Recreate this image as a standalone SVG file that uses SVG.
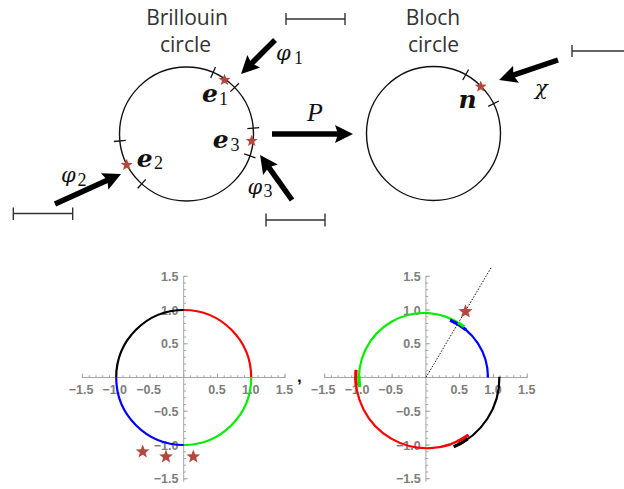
<svg xmlns="http://www.w3.org/2000/svg" xmlns:xlink="http://www.w3.org/1999/xlink" width="624" height="489" viewBox="0 0 624 489">
<style>
.title{font-family:"Open Sans","Liberation Sans",sans-serif;font-size:21px;fill:#333;text-anchor:middle}
.m{font-family:"Liberation Serif","DejaVu Serif",serif;font-style:italic;font-size:26px;fill:#111}
.g{font-family:"DejaVu Serif",serif;font-style:italic;font-size:21px;fill:#111}
.b{font-family:"DejaVu Serif",serif;font-style:italic;font-weight:bold;font-size:25px;fill:#111}
.sub{font-family:"Liberation Serif","DejaVu Serif",serif;font-size:18px;fill:#111}
.circ{fill:none;stroke:#111;stroke-width:1.4}
.tick{stroke:#111;stroke-width:1.3}
.bar{stroke:#333;stroke-width:1.4;fill:none}
.arrow{stroke:#000;stroke-width:5.5;fill:none;marker-end:url(#ah)}
.star{fill:#b4483c}
.ax{stroke:#a6a6a6;stroke-width:1;fill:none}
.tk{stroke:#a6a6a6;fill:none}
.lbl{font-family:"Liberation Sans",Arial,sans-serif;font-weight:bold;font-size:12.5px;fill:#7d7d7d}
.lx{text-anchor:middle}
.ly{text-anchor:end}
.arc{fill:none;stroke-width:2.2}
.thk{fill:none;stroke-width:3.2}
</style>
<defs>
<marker id="ah" markerUnits="userSpaceOnUse" markerWidth="18" markerHeight="20" viewBox="0 0 18 20" refX="6" refY="10" orient="auto">
<path d="M0,1 L18,10 L0,19 L3,10 Z" fill="#000"/>
</marker>
<path id="star" d="M0,-1 L0.2469,-0.3398 L0.9511,-0.309 L0.3995,0.1298 L0.5878,0.809 L0,0.42 L-0.5878,0.809 L-0.3995,0.1298 L-0.9511,-0.309 L-0.2469,-0.3398 Z"/>
</defs>

<g id="brillouin">
<text class="title" x="187" y="25">Brillouin</text>
<text class="title" x="185.5" y="52">circle</text>
<circle class="circ" cx="186.5" cy="134" r="67"/>
<line class="tick" x1="210.7" y1="78" x2="215.5" y2="67"/>
<line class="tick" x1="230.4" y1="91.6" x2="239" y2="83.3"/>
<line class="tick" x1="247.3" y1="128.7" x2="259.2" y2="127.6"/>
<line class="tick" x1="244.2" y1="153.9" x2="255.5" y2="157.8"/>
<line class="tick" x1="125.8" y1="140.3" x2="113.9" y2="141.5"/>
<line class="tick" x1="145.8" y1="179.4" x2="137.7" y2="188.3"/>
<use xlink:href="#star" class="star" transform="translate(224.5,80) scale(6.3)"/>
<use xlink:href="#star" class="star" transform="translate(251.7,141) scale(6.3)"/>
<use xlink:href="#star" class="star" transform="translate(126.7,165) scale(6.3)"/>
<text class="b" x="202" y="101.7">e</text><text class="sub" x="219" y="104.5">1</text>
<text class="b" x="212.8" y="147.7">e</text><text class="sub" x="230.5" y="150.7">3</text>
<text class="b" x="136.8" y="166.7">e</text><text class="sub" x="154" y="168.5">2</text>
</g>

<g id="bloch">
<text class="title" x="433" y="25">Bloch</text>
<text class="title" x="433.5" y="52">circle</text>
<circle class="circ" cx="433.5" cy="133.5" r="67"/>
<line class="tick" x1="462.8" y1="80" x2="468.6" y2="69.5"/>
<line class="tick" x1="488.2" y1="106.4" x2="498.9" y2="101"/>
<use xlink:href="#star" class="star" transform="translate(480.7,86.7) scale(6.3)"/>
<text class="b" x="458.5" y="108.3" font-size="27">n</text>
</g>

<g id="scalebars">
<path class="bar" d="M286,19 H345 M286,13 V25 M345,13 V25"/>
<path class="bar" d="M13.3,213.5 H72.7 M13.3,207.5 V220 M72.7,207.5 V220"/>
<path class="bar" d="M266,220 H325 M266,213.5 V226.5 M325,213.5 V226.5"/>
<path class="bar" d="M572,51 H624 M572,45 V57"/>
</g>

<g id="connectors">
<line class="arrow" x1="275" y1="40" x2="249.5" y2="65.5"/>
<line class="arrow" x1="55" y1="204" x2="110.1" y2="179"/>
<line class="arrow" x1="292" y1="200" x2="267" y2="164.8"/>
<line class="arrow" x1="272" y1="134" x2="341" y2="134"/>
<line class="arrow" x1="558" y1="60" x2="510.4" y2="76.1"/>
</g>

<g id="arrow-labels">
<text class="g" x="276" y="59.5">φ</text><text class="sub" x="294" y="63.5">1</text>
<text class="g" x="61" y="181.5">φ</text><text class="sub" x="77.5" y="186">2</text>
<text class="g" x="247.5" y="193.5">φ</text><text class="sub" x="263.5" y="196.7">3</text>
<text class="m" x="307" y="120.7" font-size="27">P</text>
<text class="g" x="535" y="95" font-size="23">χ</text>
</g>

<g id="plot-left">
<line class="ax" x1="81.7" y1="377.5" x2="285.5" y2="377.5"/>
<line class="ax" x1="183.7" y1="276" x2="183.7" y2="481.7"/>
<line class="tk" x1="81.95" y1="376.35" x2="285.5" y2="376.35" stroke-width="2.3" stroke-dasharray="1 5.75"/>
<line class="tk" x1="81.95" y1="375.5" x2="285.5" y2="375.5" stroke-width="4" stroke-dasharray="1 32.75"/>
<line class="tk" x1="184.85" y1="275.75" x2="184.85" y2="479.3" stroke-width="2.3" stroke-dasharray="1 5.75"/>
<line class="tk" x1="185.7" y1="275.75" x2="185.7" y2="479.3" stroke-width="4" stroke-dasharray="1 32.75"/>
<text class="lbl lx" x="81" y="393.5">−1.5</text>
<text class="lbl lx" x="114.7" y="393.5">−1.0</text>
<text class="lbl lx" x="148.5" y="393.5">−0.5</text>
<text class="lbl lx" x="217" y="393.5">0.5</text>
<text class="lbl lx" x="250.7" y="393.5">1.0</text>
<text class="lbl lx" x="284.5" y="393.5">1.5</text>
<text class="lbl ly" x="178.5" y="280.7">1.5</text>
<text class="lbl ly" x="178.5" y="314.5">1.0</text>
<text class="lbl ly" x="178.5" y="348.2">0.5</text>
<text class="lbl ly" x="178.5" y="415.7">−0.5</text>
<text class="lbl ly" x="178.5" y="449.5">−1.0</text>
<text class="lbl ly" x="178.5" y="483.2">−1.5</text>
<path class="arc" stroke="#ff0000" d="M183.7,310 A67.5,67.5 0 0 1 251.2,377.5"/>
<path class="arc" stroke="#00ee00" d="M251.2,377.5 A67.5,67.5 0 0 1 183.7,445"/>
<path class="arc" stroke="#0000ff" d="M183.7,445 A67.5,67.5 0 0 1 116.2,377.5"/>
<path class="arc" stroke="#000000" d="M116.2,377.5 A67.5,67.5 0 0 1 183.7,310"/>
<use xlink:href="#star" class="star" transform="translate(142.7,451.7) scale(7.2)"/>
<use xlink:href="#star" class="star" transform="translate(166,456.7) scale(7.2)"/>
<use xlink:href="#star" class="star" transform="translate(193.3,456.7) scale(7.2)"/>
</g>

<text x="297" y="382" font-family="Liberation Sans, Arial, sans-serif" font-weight="bold" font-size="17" fill="#111">,</text>

<g id="plot-right">
<line class="ax" x1="324" y1="377.5" x2="527.7" y2="377.5"/>
<line class="ax" x1="425.9" y1="276" x2="425.9" y2="481.7"/>
<line class="tk" x1="324.15" y1="376.35" x2="527.7" y2="376.35" stroke-width="2.3" stroke-dasharray="1 5.75"/>
<line class="tk" x1="324.15" y1="375.5" x2="527.7" y2="375.5" stroke-width="4" stroke-dasharray="1 32.75"/>
<line class="tk" x1="427.05" y1="275.75" x2="427.05" y2="479.3" stroke-width="2.3" stroke-dasharray="1 5.75"/>
<line class="tk" x1="427.9" y1="275.75" x2="427.9" y2="479.3" stroke-width="4" stroke-dasharray="1 32.75"/>
<text class="lbl lx" x="323.2" y="393.5">−1.5</text>
<text class="lbl lx" x="357" y="393.5">−1.0</text>
<text class="lbl lx" x="390.7" y="393.5">−0.5</text>
<text class="lbl lx" x="459.2" y="393.5">0.5</text>
<text class="lbl lx" x="493" y="393.5">1.0</text>
<text class="lbl lx" x="526.7" y="393.5">1.5</text>
<text class="lbl ly" x="420.7" y="280.7">1.5</text>
<text class="lbl ly" x="420.7" y="314.5">1.0</text>
<text class="lbl ly" x="420.7" y="348.2">0.5</text>
<text class="lbl ly" x="420.7" y="415.7">−0.5</text>
<text class="lbl ly" x="420.7" y="449.5">−1.0</text>
<text class="lbl ly" x="420.7" y="483.2">−1.5</text>
<line x1="425.9" y1="377.5" x2="491.7" y2="266.7" stroke="#111" stroke-width="1" stroke-dasharray="1.5 1.5"/>
<path class="arc" stroke="#ff0000" d="M356.05,369.9 A71.3,71.3 0 0 0 468.4,435"/>
<path class="thk" stroke="#ff0000" d="M356.05,369.9 A71.3,71.3 0 0 0 356.2,385.7"/>
<path class="thk" stroke="#ff0000" d="M457.1,441.6 A71.3,71.3 0 0 0 468.4,435"/>
<path class="arc" stroke="#000000" d="M499.4,376.7 A74.5,74.5 0 0 1 453.8,446.8"/>
<path class="thk" stroke="#000000" d="M467.7,439 A74.5,74.5 0 0 1 453.8,446.8"/>
<path class="arc" stroke="#00ee00" d="M359.6,387 A65,65 0 0 1 464,326.8"/>
<path class="thk" stroke="#00ee00" d="M359.6,387 A65,65 0 0 1 359,375.8"/>
<path class="arc" stroke="#0000ff" d="M450.2,320.2 A62,62 0 0 1 488,377.5"/>
<path class="thk" stroke="#0000ff" d="M450.2,320.2 A62,62 0 0 1 465.9,329.8"/>
<path class="thk" stroke="#00ee00" d="M458,322.5 A65,65 0 0 1 464,326.8" stroke-width="3"/>
<use xlink:href="#star" class="star" transform="translate(465.5,311.5) scale(7.5)"/>
</g>
</svg>
